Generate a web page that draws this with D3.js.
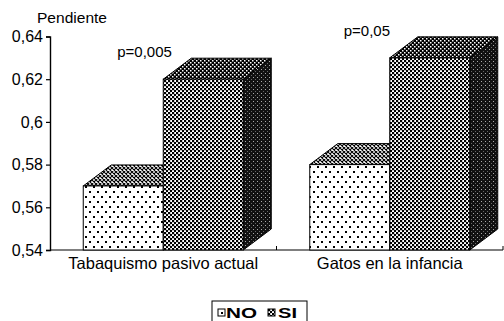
<!DOCTYPE html>
<html>
<head>
<meta charset="utf-8">
<script src="https://cdn.jsdelivr.net/npm/d3@7"></script>
<style>
  html, body { margin: 0; padding: 0; background: #fff; }
  svg { display: block; font-family: "Liberation Sans", Arial, Helvetica, sans-serif; }
</style>
</head>
<body>
<svg id="chart" width="504" height="321"></svg>
<script>
// Slope (pendiente) by exposure group
const categories = ["Tabaquismo pasivo actual", "Gatos en la infancia"];
const seriesNames = ["NO", "SI"];
const valuesNO = [0.57, 0.58];
const valuesSI = [0.62, 0.63];
const pLabels = ["p=0,005", "p=0,05"];
const yTicks = [0.54, 0.56, 0.58, 0.6, 0.62, 0.64];
const yTickLabels = ["0,54", "0,56", "0,58", "0,6", "0,62", "0,64"];

const svg = d3.select("#chart");
const defs = svg.append("defs");

// Fill patterns for the box faces
function pat(id, w, h, draw) {
  const p = defs.append("pattern").attr("id", id)
    .attr("patternUnits", "userSpaceOnUse").attr("width", w).attr("height", h);
  draw(p);
}
// NO front: white with staggered dots
pat("noFront", 8, 10, p => {
  p.append("rect").attr("width", 8).attr("height", 10).attr("fill", "#fff");
  p.append("rect").attr("x", 1).attr("y", 1).attr("width", 2).attr("height", 2).attr("fill", "#000");
  p.append("rect").attr("x", 5).attr("y", 6).attr("width", 2).attr("height", 2).attr("fill", "#000");
});
// NO top: crosshatch
pat("noTop", 4, 4, p => {
  p.append("rect").attr("width", 4).attr("height", 4).attr("fill", "#fff");
  p.append("path").attr("d", "M0,0L4,4M4,0L0,4").attr("stroke", "#000").attr("stroke-width", 1.1);
});
// SI front: fine checkerboard
pat("siFront", 4, 4, p => {
  p.append("rect").attr("width", 4).attr("height", 4).attr("fill", "#fff");
  p.append("rect").attr("width", 2.2).attr("height", 2.2).attr("fill", "#000");
  p.append("rect").attr("x", 2).attr("y", 2).attr("width", 2.2).attr("height", 2.2).attr("fill", "#000");
});
// SI top: darker checkerboard
pat("siTop", 4, 4, p => {
  p.append("rect").attr("width", 4).attr("height", 4).attr("fill", "#000");
  p.append("rect").attr("width", 1.5).attr("height", 1.5).attr("fill", "#fff");
  p.append("rect").attr("x", 2).attr("y", 2).attr("width", 1.5).attr("height", 1.5).attr("fill", "#fff");
});
// SI side: nearly black with sparse light specks
pat("siSide", 4, 4, p => {
  p.append("rect").attr("width", 4).attr("height", 4).attr("fill", "#111");
  p.append("rect").attr("x", 1).attr("y", 1).attr("width", 1).attr("height", 1).attr("fill", "#aaa");
  p.append("rect").attr("x", 3).attr("y", 3).attr("width", 1).attr("height", 1).attr("fill", "#666");
});
// NO side (mostly hidden behind SI box)
pat("noSide", 4, 4, p => {
  p.append("rect").attr("width", 4).attr("height", 4).attr("fill", "#555");
  p.append("rect").attr("width", 2).attr("height", 2).attr("fill", "#fff");
});

const x0 = 50, x1 = 503, yTop = 36.5, yBottom = 250;
const depthX = 28, depthY = 21;
const barW = 80;

const y = d3.scaleLinear().domain([0.54, 0.64]).range([yBottom, yTop]);
const x = d3.scaleBand().domain(categories).range([x0, x1]).padding(0);
const xs = d3.scaleBand().domain(seriesNames).range([0, 2 * barW]).padding(0);

const fills = {
  NO: { front: "url(#noFront)", top: "url(#noTop)", side: "url(#noSide)" },
  SI: { front: "url(#siFront)", top: "url(#siTop)", side: "url(#siSide)" }
};

// Baseline axis
svg.append("line").attr("x1", x0).attr("x2", x1).attr("y1", yBottom).attr("y2", yBottom)
  .attr("stroke", "#000").attr("stroke-width", 1.2);
// Small category separator ticks on baseline
[x0 + x.bandwidth(), x1].forEach(px => {
  svg.append("line").attr("x1", px).attr("x2", px).attr("y1", yBottom).attr("y2", yBottom - 4)
    .attr("stroke", "#000").attr("stroke-width", 1);
});

// Y axis
const yAxis = d3.axisLeft(y).tickValues(yTicks)
  .tickFormat((d, i) => yTickLabels[i]).tickSize(4).tickPadding(3);
const gy = svg.append("g").attr("transform", `translate(${x0},0)`).call(yAxis);
gy.select(".domain").attr("stroke-width", 1.4);
gy.selectAll("line").attr("stroke-width", 1.2);
gy.selectAll("text").attr("font-size", 16).attr("fill", "#000")
  .attr("font-family", "'Liberation Sans', Arial, sans-serif");

svg.append("text").attr("x", 37).attr("y", 23).attr("font-size", 14.5)
  .attr("textLength", 70).attr("lengthAdjust", "spacingAndGlyphs").text("Pendiente");

// 3D boxes
const boxes = [];
categories.forEach((c, i) => {
  const left = x(c) + x.bandwidth() / 2 - barW;
  boxes.push({ cat: c, s: "NO", v: valuesNO[i], x: left + xs("NO") });
  boxes.push({ cat: c, s: "SI", v: valuesSI[i], x: left + xs("SI") });
});

const g = svg.append("g");
boxes.forEach(b => {
  const xl = b.x, xr = b.x + xs.bandwidth();
  const yt = y(b.v), yb = y(0.54);
  const bg = g.append("g");
  // side face
  bg.append("path")
    .attr("d", `M${xr},${yb}L${xr + depthX},${yb - depthY}L${xr + depthX},${yt - depthY}L${xr},${yt}Z`)
    .attr("fill", fills[b.s].side).attr("stroke", "#000").attr("stroke-width", 1);
  // top face
  bg.append("path")
    .attr("d", `M${xl},${yt}L${xl + depthX},${yt - depthY}L${xr + depthX},${yt - depthY}L${xr},${yt}Z`)
    .attr("fill", fills[b.s].top).attr("stroke", "#000").attr("stroke-width", 1);
  // front face
  bg.append("rect").attr("x", xl).attr("y", yt).attr("width", xr - xl).attr("height", yb - yt)
    .attr("fill", fills[b.s].front).attr("stroke", "#000").attr("stroke-width", 1);
});

// p-value labels
categories.forEach((c, i) => {
  svg.append("text")
    .attr("x", x(c) + x.bandwidth() / 2 - 46)
    .attr("y", y(valuesSI[i]) - 22)
    .attr("font-size", 15).text(pLabels[i]);
});

// Category labels
categories.forEach(c => {
  svg.append("text")
    .attr("x", x(c) + x.bandwidth() / 2)
    .attr("y", 269).attr("text-anchor", "middle")
    .attr("font-size", 16.5).text(c);
});

// Legend
const lg = svg.append("g").attr("transform", "translate(212,301)");
lg.append("rect").attr("width", 95).attr("height", 40).attr("fill", "#fff")
  .attr("stroke", "#000").attr("stroke-width", 1);
const items = [{ s: "NO", ix: 6, tx: 14, tl: 31 }, { s: "SI", ix: 56, tx: 66, tl: 19 }];
items.forEach(it => {
  lg.append("rect").attr("x", it.ix).attr("y", 8).attr("width", 7).attr("height", 7)
    .attr("fill", fills[it.s].front).attr("stroke", "#000").attr("stroke-width", 1);
  lg.append("text").attr("x", it.tx).attr("y", 17).attr("font-size", 15)
    .attr("font-weight", "bold")
    .attr("textLength", it.tl).attr("lengthAdjust", "spacingAndGlyphs").text(it.s);
});
</script>
</body>
</html>
